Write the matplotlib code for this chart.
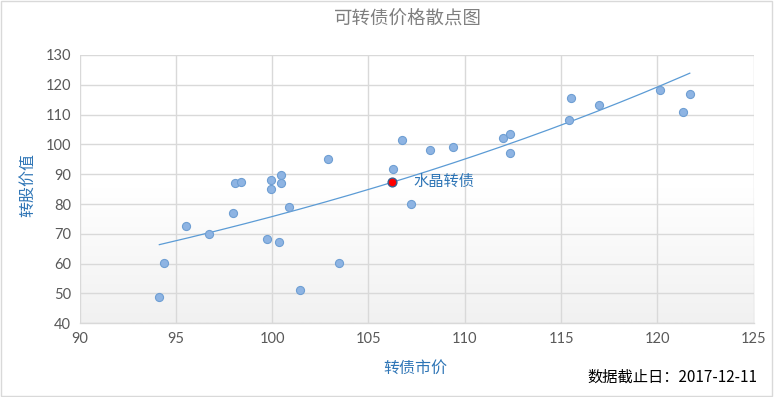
import numpy as np
import matplotlib
matplotlib.use("Agg")
import matplotlib.pyplot as plt
from matplotlib.colors import LinearSegmentedColormap

plt.rcParams['font.family'] = ['Noto Sans CJK SC', 'DejaVu Sans']

# Data: (转债市价, 转股价值)
market_price = [102.9, 98.05, 98.4, 99.95, 99.95, 100.47, 100.47,
                100.85, 97.98, 95.5, 96.7, 99.71, 100.33, 94.38, 94.14, 101.47, 103.45,
                106.75, 106.25, 108.18, 109.39, 111.99, 112.35, 112.35,
                107.21,
                115.49, 115.4, 116.97, 120.16, 121.68, 121.35]
conv_value = [95.0, 87.0, 87.5, 88.1, 85.2, 89.9, 87.0,
              78.9, 76.9, 72.5, 70.0, 68.2, 67.4, 60.1, 48.9, 51.2, 60.1,
              101.4, 91.9, 98.1, 99.1, 102.3, 103.5, 97.0,
              80.1,
              115.6, 108.2, 113.1, 118.4, 117.0, 111.0]
highlight_name = "水晶转债"
highlight_x = [106.23]
highlight_y = [87.5]

title = "可转债价格散点图"
xlabel = "转债市价"
ylabel = "转股价值"
footnote = "数据截止日：2017-12-11"
xticks = [90, 95, 100, 105, 110, 115, 120, 125]
yticks = [40, 50, 60, 70, 80, 90, 100, 110, 120, 130]

fig = plt.figure(figsize=(7.74, 3.97), dpi=100)
ax = fig.add_axes([0.1028, 0.1856, 0.871, 0.676])

# background gradient
cmap = LinearSegmentedColormap.from_list("bg", ["#ffffff", "#ffffff", "#f1f1f1"])
grad = np.linspace(0, 1, 256).reshape(-1, 1)
ax.imshow(grad, extent=[0, 1, 0, 1], transform=ax.transAxes, cmap=cmap,
          aspect='auto', zorder=0, origin='upper')

ax.set_xlim(90, 125)
ax.set_ylim(40, 130)
ax.set_xticks(xticks)
ax.set_yticks(yticks)
ax.grid(True, color="#d9d9d9", linewidth=1.0, zorder=1)
for s in ['top', 'right', 'left']:
    ax.spines[s].set_visible(False)
ax.spines['bottom'].set_color("#d9d9d9")
ax.spines['bottom'].set_linewidth(1.0)
ax.tick_params(length=0, labelsize=10.5, labelcolor="#595959", pad=6)
for lab in ax.get_xticklabels() + ax.get_yticklabels():
    lab.set_family(['Lato', 'DejaVu Sans'])

x = np.array(market_price)
y = np.array(conv_value)
# exponential trendline (least squares on ln y)
b, a = np.polyfit(x, np.log(y), 1)
xt = np.linspace(x.min(), x.max(), 200)
ax.plot(xt, np.exp(a + b * xt), color="#5b9bd5", linewidth=0.9, zorder=2)

ax.scatter(x, y, s=34, color="#8eb4e3", edgecolors="#6f9fd3", linewidths=0.8, zorder=3)
ax.scatter(highlight_x, highlight_y, s=40, color="#ff0000", edgecolors="#3a5f8f",
           linewidths=1.0, zorder=4)
ax.annotate(highlight_name, (highlight_x[0], highlight_y[0]), xytext=(15, 0),
            textcoords="offset points", va="center", ha="left", fontsize=11,
            style="italic", color="#2e75b6")

fig.text(0.527, 0.95, title, ha="center", va="center", fontsize=13.3, color="#7f7f7f")
fig.text(0.537, 0.073, xlabel, ha="center", va="center", fontsize=11.5,
         style="italic", color="#2e75b6")
fig.text(0.036, 0.535, ylabel, ha="center", va="center", fontsize=11.5,
         style="italic", color="#2e75b6", rotation=90)
fig.text(0.978, 0.05, footnote, ha="right", va="center", fontsize=11, color="#000000")

# outer border
fig.patches.append(plt.Rectangle((0.001, 0.002), 0.996, 0.996, transform=fig.transFigure,
                                 fill=False, edgecolor="#d9d9d9", linewidth=1.0))

fig.savefig("out.png", dpi=100)
